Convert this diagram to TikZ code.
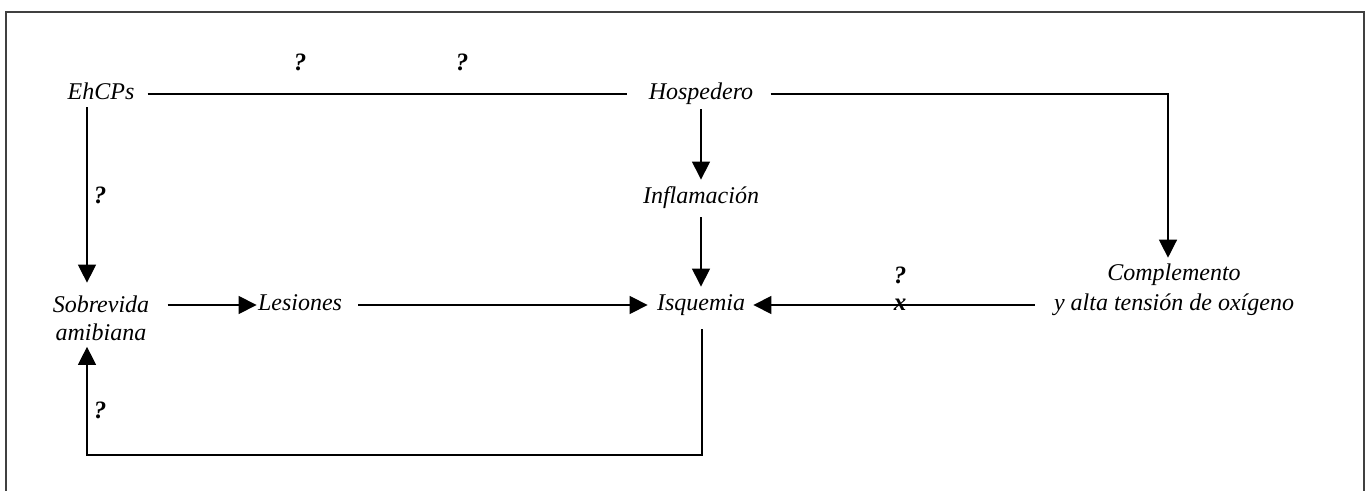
\documentclass[tikz,border=0pt]{standalone}
\usepackage{fontspec}
\setmainfont{Liberation Serif}
\usetikzlibrary{arrows.meta}
\begin{document}
\begin{tikzpicture}[x=0.5pt,y=-0.5pt,
  lbl/.style={inner sep=0pt, font=\fontsize{12}{14}\selectfont\itshape, text height=8pt, text depth=2.5pt},
  mlbl/.style={inner sep=0pt, align=center, font=\fontsize{12}{14}\selectfont\itshape},
  qlbl/.style={inner sep=0pt, font=\fontsize{12.5}{14}\selectfont\bfseries\itshape},
  conn/.style={line width=0.6pt, black},
  arr/.style={conn, -{Triangle[length=9pt,width=9pt]}},
  frame/.style={line width=1pt, black!75}]
\useasboundingbox (0,0) rectangle (1368,491);
\draw[frame] (6,491) -- (6,12) -- (1364,12) -- (1364,491);
% nodes
\node[lbl] (ehcps) at (101,94) {EhCPs};
\node[lbl] (hosp) at (701,94) {Hospedero};
\node[lbl] (infl) at (701,198) {Inflamación};
\node[lbl] (isq) at (701,305) {Isquemia};
\node[lbl] (les) at (300,305) {Lesiones};
\node[mlbl] (comp) at (1174,290) {Complemento\\[1pt]y alta tensión de oxígeno};
\node[mlbl] (sobr) at (101,318) {Sobrevida\\amibiana};
\coordinate (cr) at (1168,94);
\coordinate (bl) at (87,455);
\coordinate (br) at (702,455);
% labels
\node[qlbl] (q1) at (300,62) {?};
\node[qlbl] (q2) at (462,62) {?};
\node[qlbl] (q3) at (100,195) {?};
\node[qlbl] (q4) at (100,410) {?};
\node[qlbl] (q5) at (900,275) {?};
% connectors
\draw[conn, shorten <=6.5pt, shorten >=10.5pt] (ehcps.east) -- (hosp.west);
\draw[arr, shorten <=8.5pt, shorten >=3pt] (hosp.east) -- (cr) -- (cr |- comp.north);
\draw[arr, shorten <=2.25pt, shorten >=3.75pt] (hosp.south) -- (infl.north);
\draw[arr, shorten <=4.25pt, shorten >=3.75pt] (infl.south) -- (isq.north);
\draw[arr, shorten <=1.25pt, shorten >=6.25pt] (ehcps.south -| bl) -- (sobr.north -| bl);
\draw[arr, shorten <=9pt, shorten >=0.5pt] (sobr.east |- les.west) -- (les.west);
\draw[arr, shorten <=8pt, shorten >=4.5pt] (les.east) -- (isq.west);
\draw[arr, shorten <=9.5pt, shorten >=4pt] (comp.west |- isq.east) -- (isq.east);
\draw[arr, shorten <=6.75pt, shorten >=3pt] (isq.south -| br) -- (br) -- (bl) -- (sobr.south -| bl);
\node[qlbl] (x1) at (900,305) {x};
\end{tikzpicture}
\end{document}
